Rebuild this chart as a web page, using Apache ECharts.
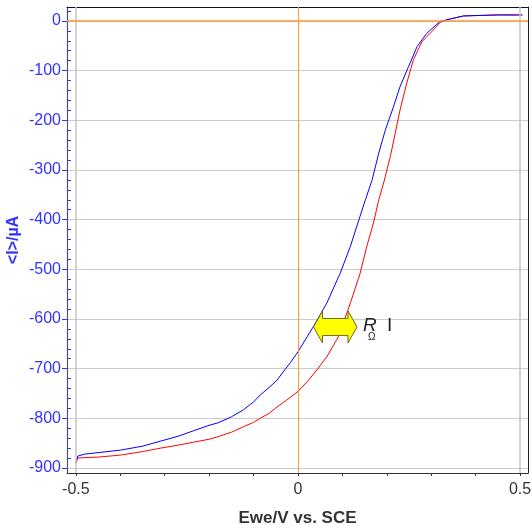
<!DOCTYPE html>
<html>
<head>
<meta charset="utf-8">
<script src="https://cdn.jsdelivr.net/npm/echarts@6/dist/echarts.min.js"></script>
<style>
html,body{margin:0;padding:0;background:#fff;}
#c{width:532px;height:529px;}
</style>
</head>
<body>
<div id="c"></div>
<script>
// Blue curve: [E (V vs SCE), I (µA)]
var blueE = [-0.500,-0.496,-0.480,-0.450,-0.400,-0.350,-0.310,-0.270,-0.235,-0.200,-0.180,-0.150,-0.123,-0.100,-0.085,-0.065,-0.047,-0.032,-0.017,0.000,0.035,0.065,0.095,0.118,0.137,0.152,0.167,0.182,0.197,0.215,0.230,0.249,0.268,0.290,0.320,0.343,0.373,0.410,0.450,0.504];
var blueI = [-890,-876,-872,-869,-864,-856,-846,-836,-825,-814,-809,-797,-783,-767,-753,-738,-723,-705,-688,-666,-615,-568,-508,-454,-401,-360,-320,-266,-219,-173,-132,-92,-52,-25,-1,4,10,11,12,12];
// Red curve
var redE = [-0.500,-0.496,-0.480,-0.450,-0.400,-0.350,-0.310,-0.270,-0.235,-0.200,-0.180,-0.150,-0.123,-0.100,-0.085,-0.065,-0.047,-0.025,0.000,0.024,0.045,0.065,0.091,0.118,0.140,0.155,0.170,0.182,0.193,0.208,0.219,0.230,0.245,0.260,0.279,0.305,0.320,0.343,0.373,0.410,0.450,0.506];
var redI = [-890,-880,-879,-878,-874,-867,-860,-854,-848,-842,-837,-828,-817,-808,-800,-790,-777,-763,-746,-723,-700,-676,-636,-568,-508,-454,-407,-360,-326,-273,-226,-179,-125,-78,-42,-18,-3,4,10,11,12,12];
// Axis labels shown on the x axis
var xLabelValues = [-0.5, 0, 0.5];
// Reference lines
var xRefGray = [-0.5, 0.5];
// Annotation (R_Ω I arrow) in data units
var arrowE = [0.035, 0.133];
var arrowI = -616;

function pairs(xs, ys){ return xs.map(function(x,i){ return [x, ys[i]]; }); }

var chart = echarts.init(document.getElementById('c'));
var blueAxis = '#3333ff';
var XMIN = -0.52, XMAX = 0.518, YMIN = -910, YMAX = 28;
var option = {
  animation: false,
  grid: {left: 67, right: 4, top: 7, bottom: 56, show: false, outerBoundsMode: 'none', containLabel: false},
  xAxis: [{
    type: 'value', min: XMIN, max: XMAX, splitNumber: 10,
    name: 'Ewe/V vs. SCE', nameLocation: 'middle', nameGap: 37, nameMoveOverlap: false,
    nameTextStyle: {fontFamily: 'Liberation Sans', fontWeight: 'bold', fontSize: 17, color: '#333'},
    axisLine: {show: true, onZero: false, lineStyle: {color: '#333'}},
    axisTick: {show: true, length: 3, lineStyle: {color: '#333'}},
    axisLabel: {
      showMinLabel: false, showMaxLabel: false, margin: 9, hideOverlap: false,
      fontFamily: 'Liberation Sans', fontSize: 16, color: '#333',
      formatter: function(v){
        for (var i=0;i<xLabelValues.length;i++){ if (Math.abs(v - xLabelValues[i]) < 1e-6) return String(xLabelValues[i]); }
        return '';
      }
    },
    splitLine: {show: false}
  }, {
    type: 'value', position: 'top', min: XMIN, max: XMAX,
    axisLine: {show: true, onZero: false, lineStyle: {color: '#111'}},
    axisTick: {show: false}, axisLabel: {show: false}, splitLine: {show: false}
  }],
  yAxis: [{
    type: 'value', min: YMIN, max: YMAX, splitNumber: 10,
    name: '<I>/µA', nameLocation: 'middle', nameGap: 45, nameMoveOverlap: false,
    nameTextStyle: {fontFamily: 'Liberation Sans', fontWeight: 'bold', fontSize: 16, color: blueAxis},
    axisLine: {show: true, onZero: false, lineStyle: {color: blueAxis}},
    axisTick: {show: true, length: 5, lineStyle: {color: blueAxis}},
    axisLabel: {showMinLabel: false, showMaxLabel: false, margin: 6, fontFamily: 'Liberation Sans', fontSize: 16, color: blueAxis},
    splitLine: {show: true, lineStyle: {color: '#cccccc', width: 1}}
  }, {
    type: 'value', position: 'left', min: YMIN, max: YMAX, splitNumber: 10,
    axisLine: {show: false, onZero: false}, axisTick: {show: false, inside: true}, axisLabel: {show: false}, splitLine: {show: false},
    minorTick: {show: true, splitNumber: 5, length: 4, lineStyle: {color: blueAxis}}
  }, {
    type: 'value', position: 'right', min: YMIN, max: YMAX,
    axisLine: {show: true, onZero: false, lineStyle: {color: '#222'}},
    axisTick: {show: false}, axisLabel: {show: false}, splitLine: {show: false}
  }],
  series: [
    {
      type: 'line', data: [], z: 1, silent: true,
      markLine: {
        silent: true, symbol: 'none', label: {show: false}, animation: false,
        data: [
          {xAxis: xRefGray[0], lineStyle: {color: '#c4c4c4', width: 1.5, type: 'solid'}},
          {xAxis: xRefGray[1], lineStyle: {color: '#c4c4c4', width: 1.5, type: 'solid'}},
          {xAxis: 0, lineStyle: {color: '#ff9a30', width: 1, type: 'solid'}},
          {yAxis: 0, lineStyle: {color: '#ff9a30', width: 1.5, type: 'solid'}}
        ]
      }
    },
    {type: 'line', data: pairs(redE, redI), showSymbol: false, symbol: 'none', z: 3, lineStyle: {color: '#ff0000', width: 1}},
    {type: 'line', data: pairs(blueE, blueI), showSymbol: false, symbol: 'none', z: 4, lineStyle: {color: '#0000ff', width: 1}}
  ]
};
chart.setOption(option);

var p1 = chart.convertToPixel({xAxisIndex: 0, yAxisIndex: 0}, [arrowE[0], arrowI]);
var p2 = chart.convertToPixel({xAxisIndex: 0, yAxisIndex: 0}, [arrowE[1], arrowI]);
var x1 = p1[0], x2 = p2[0], yc = p1[1];
var hl = 9, hh = 16, sh = 8.5;
chart.setOption({
  graphic: [
    {type: 'polygon', z: 10, shape: {points: [
      [x1, yc], [x1+hl, yc-hh], [x1+hl, yc-sh], [x2-hl, yc-sh], [x2-hl, yc-hh], [x2, yc],
      [x2-hl, yc+hh], [x2-hl, yc+sh], [x1+hl, yc+sh], [x1+hl, yc+hh]
    ]}, style: {fill: '#ffff00', stroke: '#6b6b20', lineWidth: 1}},
    {type: 'text', z: 10, x: x2 + 6, y: yc - 1, style: {text: 'R', font: 'italic 19px "Liberation Sans"', fill: '#222', verticalAlign: 'middle'}},
    {type: 'text', z: 10, x: x2 + 11, y: yc + 10, style: {text: 'Ω', font: '10px "Liberation Sans"', fill: '#222', verticalAlign: 'middle'}},
    {type: 'text', z: 10, x: x2 + 30, y: yc - 1, style: {text: 'I', font: '19px "Liberation Sans"', fill: '#222', verticalAlign: 'middle'}}
  ]
});
</script>
</body>
</html>
